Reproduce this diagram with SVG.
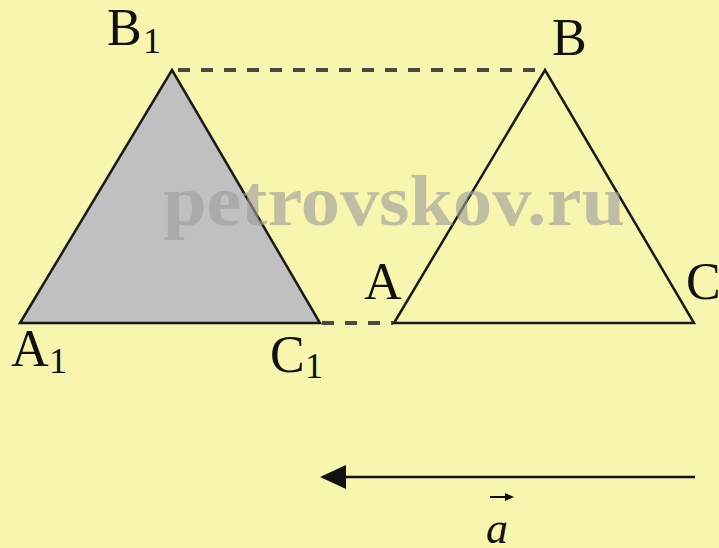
<svg xmlns="http://www.w3.org/2000/svg" width="719" height="548" viewBox="0 0 719 548">
<defs>
<style>
.lbl{font-family:"Liberation Serif","Times New Roman",serif;font-size:52px;fill:#111}
.sub{font-family:"Liberation Serif","Times New Roman",serif;font-size:36px;fill:#111}
.tri{stroke:#1a1a1a;stroke-width:2.5;stroke-linejoin:miter}
.dash{stroke:#4a4a40;stroke-width:4;stroke-dasharray:12 11;fill:none}
.wm{font-family:"Liberation Serif","Times New Roman",serif;font-weight:bold;font-size:72px;fill:#9c9c9c;fill-opacity:0.62}
</style>
</defs>
<rect width="719" height="548" fill="#F7F5AE"/>
<g id="connectors">
<line class="dash" x1="178" y1="70" x2="540" y2="70"/>
<line class="dash" x1="322" y1="323" x2="393" y2="323"/>
<line x1="695" y1="477" x2="346" y2="477" stroke="#111" stroke-width="2.5"/>
<path d="M320,477 L346,465 L346,489 Z" fill="#111"/>
</g>
<g id="triangle-A1B1C1">
<polygon class="tri" points="20,323 172,70 320,323" fill="#C0C0C0"/>
</g>
<g id="triangle-ABC">
<polygon class="tri" points="394,323 545,70 694,323" fill="none"/>
</g>
<text class="wm" x="163" y="225" textLength="462" lengthAdjust="spacingAndGlyphs">petrovskov.ru</text>
<g id="labels">
<text class="lbl" x="107" y="45">B</text><text class="sub" x="143" y="53">1</text>
<text class="lbl" x="552" y="55">B</text>
<text class="lbl" x="364" y="299">A</text>
<text class="lbl" x="686" y="299">C</text>
<text class="lbl" x="11" y="366">A</text><text class="sub" x="49" y="373">1</text>
<text class="lbl" x="270" y="372">C</text><text class="sub" x="305" y="378">1</text>
</g>
<g id="vector-label">
<line x1="490" y1="497" x2="511" y2="497" stroke="#111" stroke-width="2"/>
<path d="M514,497 L505,493 L505,501 Z" fill="#111"/>
<text x="486" y="543" font-family="Liberation Serif, serif" font-style="italic" font-size="44" fill="#111">a</text>
</g>
</svg>
